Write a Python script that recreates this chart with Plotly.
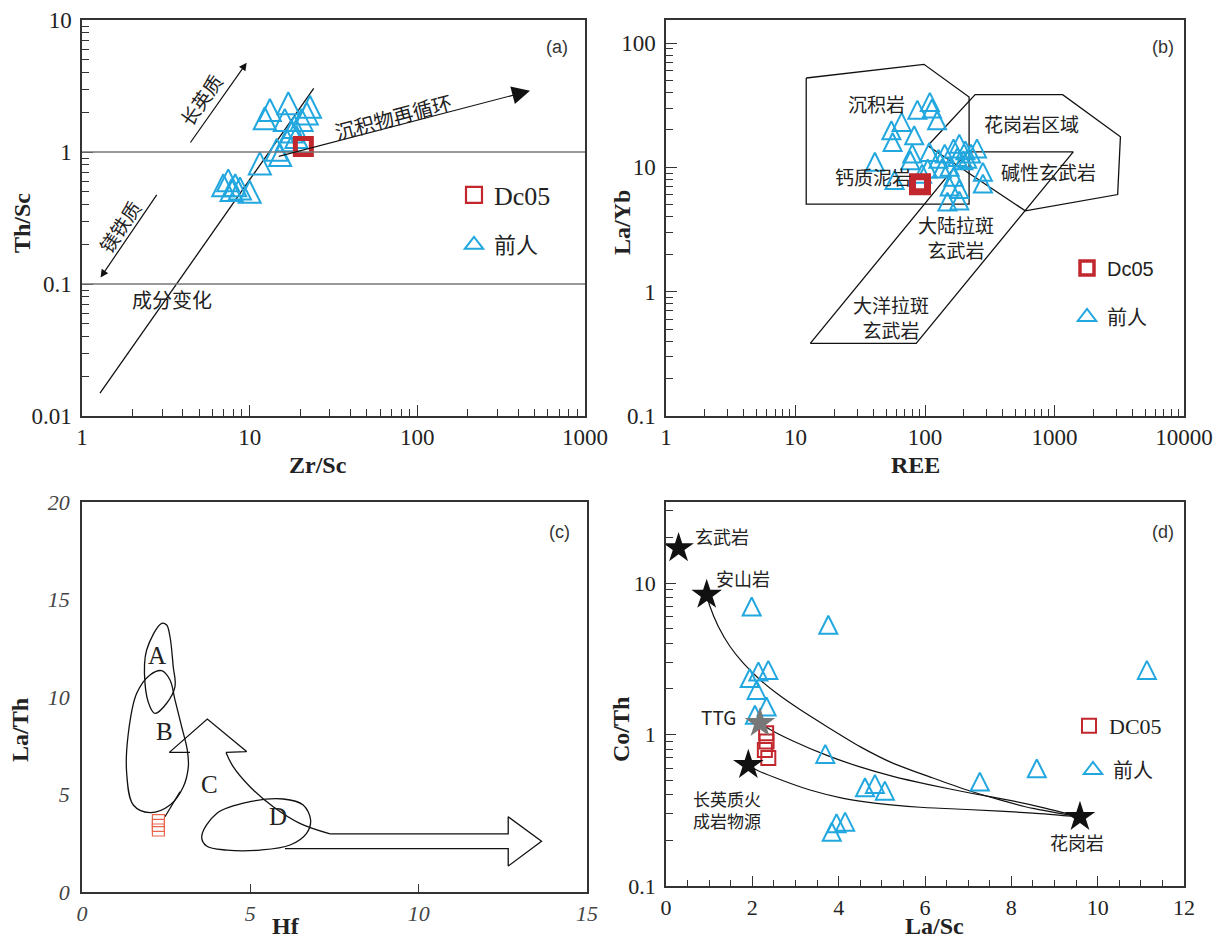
import numpy as np
import plotly.graph_objects as go

L = np.log10
W, H = 1216, 942

BLUE = "#22A7DF"
RED = "#C1272D"
LRED = "#E8674C"
SERIF = "Liberation Serif, Times New Roman, serif"
SANS = "Noto Sans CJK SC, Noto Sans, sans-serif"
ARIAL = "Liberation Sans, Arial, sans-serif"

# ---------------- Panel (a): Th/Sc vs Zr/Sc ----------------
a_prev_zrsc = [13.2, 17.0, 22.9, 12.3, 16.2, 20.4, 21.9, 17.8, 16.6, 14.5,
               15.2, 11.5, 7.45, 6.96, 8.2, 7.8, 10.0, 8.75, 19.0, 18.5]
a_prev_thsc = [2.08, 2.34, 2.2, 1.8, 1.75, 1.75, 1.96, 1.43, 1.23, 1.04,
               0.95, 0.82, 0.61, 0.56, 0.56, 0.515, 0.50, 0.53, 1.3, 1.55]
a_dc05_zrsc = [20.9]
a_dc05_thsc = [1.10]
a_hlines = [1.0, 0.1]
a_comp_x = [1.28, 24.1]
a_comp_y = [0.0149, 3.03]
a_recycle_x = [14.6, 470]
a_recycle_y = [0.92, 2.91]
a_felsic_x = [4.37, 9.6]
a_felsic_y = [1.15, 4.75]
a_mafic_x = [2.83, 1.29]
a_mafic_y = [0.486, 0.112]
a_ticks_x = [1, 10, 100, 1000]
a_ticks_y = [0.01, 0.1, 1, 10]

# ---------------- Panel (b): La/Yb vs REE ----------------
b_prev_ree = [87.3, 109, 113, 124, 66, 55, 56.2, 82.5, 79.7, 77, 41, 58.2, 108, 105,
              127, 142, 166, 184, 205, 212, 252, 280, 280, 155, 166, 155, 184, 149,
              184, 135, 198, 95, 178, 227]
b_prev_layb = [29.1, 33.6, 29.7, 23.9, 23.2, 19.9, 16.0, 18.1, 12.9, 11.4, 11.1, 7.9, 13.3, 9.8,
               11.7, 12.9, 14.2, 15.5, 13.7, 11.7, 14.2, 9.2, 7.4, 10.1, 8.4, 7.0, 6.7, 5.3,
               5.4, 9.8, 11.4, 8.9, 12.1, 12.9]
b_dc05_ree = [91.5]
b_dc05_layb = [7.3]
b_sed_x = [12.1, 98.2, 219, 219, 12.1, 12.1]
b_sed_y = [52.3, 67.4, 36.8, 5.05, 5.05, 52.3]
b_gran_x = [105, 244, 1156, 3229, 3074, 595, 105]
b_gran_y = [14.9, 38.4, 38.4, 17.6, 6.04, 4.47, 14.9]
b_thol_x = [13.0, 85.5, 1396, 212, 13.0]
b_thol_y = [0.384, 0.384, 13.3, 13.3, 0.384]
b_ticks_x = [1, 10, 100, 1000, 10000]
b_ticks_y = [0.1, 1, 10, 100]

# ---------------- Panel (c): La/Th vs Hf ----------------
c_dc05_hf = [2.27, 2.27, 2.27]
c_dc05_lath = [3.66, 3.42, 3.18]
c_A_x = [2.367, 2.515, 2.614, 2.71, 2.762, 2.515, 2.168, 2.02, 1.871, 1.92, 2.367]
c_A_y = [13.78, 13.69, 13.09, 11.55, 10.53, 9.68, 9.16, 9.50, 10.70, 12.41, 13.78]
c_B_x = [2.367, 2.614, 2.762, 2.96, 3.128, 3.159, 3.01, 2.614, 2.02, 1.524, 1.327, 1.376, 1.625, 2.02, 2.367]
c_B_y = [11.35, 10.87, 9.85, 8.48, 7.28, 6.43, 5.40, 4.46, 4.07, 4.46, 6.09, 8.14, 10.19, 11.13, 11.35]
c_Btail_x = [2.91, 2.465]
c_Btail_y = [5.14, 3.86]
c_Chead_x = [3.208, 2.594, 3.722, 4.89, 4.277]
c_Chead_y = [7.16, 7.16, 8.87, 7.20, 7.16]
c_Cbody_x = [4.277, 4.49, 4.99, 5.68, 6.47, 7.37]
c_Cbody_y = [7.16, 6.43, 5.40, 4.37, 3.52, 2.98]
c_Carrow_x = [7.37, 12.66, 12.66, 13.65, 12.66, 12.66, 6.03]
c_Carrow_y = [2.98, 2.98, 3.86, 2.60, 1.33, 2.22, 2.22]
c_D_x = [3.555, 4.0, 4.99, 5.98, 6.57, 6.79, 6.67, 6.18, 5.29, 4.30, 3.70, 3.555]
c_D_y = [2.84, 4.03, 4.63, 4.77, 4.46, 3.69, 3.01, 2.41, 2.15, 2.15, 2.36, 2.84]
c_ticks_x = [0, 5, 10, 15]
c_ticks_y = [0, 5, 10, 15, 20]

# ---------------- Panel (d): Co/Th vs La/Sc ----------------
d_prev_lasc = [1.985, 3.76, 1.94, 2.14, 2.37, 2.1, 2.33, 2.06, 3.69, 4.61, 4.84, 5.07,
               3.84, 3.95, 4.15, 11.14, 7.27, 8.59]
d_prev_coth = [7.0, 5.3, 2.36, 2.61, 2.67, 1.97, 1.53, 1.35, 0.745, 0.449, 0.472, 0.426,
               0.228, 0.26, 0.266, 2.67, 0.489, 0.598]
d_dc05_lasc = [2.32, 2.33, 2.29, 2.37]
d_dc05_coth = [1.02, 0.90, 0.79, 0.70]
d_star_names = ["玄武岩", "安山岩", "TTG", "长英质火<br>成岩物源", "花岗岩"]
d_star_lasc = [0.292, 0.943, 2.177, 1.907, 9.59]
d_star_coth = [17.0, 8.37, 1.19, 0.63, 0.286]
d_mix1_x = [0.943, 1.019, 1.212, 1.483, 1.791, 2.177, 2.564, 3.104, 3.722, 4.494, 5.266,
            6.185, 6.973, 7.737, 8.501, 9.59]
d_mix1_y = [8.37, 7.0, 5.17, 3.81, 2.96, 2.30, 1.87, 1.46, 1.13, 0.832, 0.645,
            0.516, 0.430, 0.370, 0.325, 0.286]
d_mix2_x = [2.177, 2.409, 2.942, 3.729, 4.494, 5.258, 6.115, 7.042, 7.968, 8.779, 9.59]
d_mix2_y = [1.188, 1.081, 0.907, 0.728, 0.611, 0.529, 0.465, 0.411, 0.367, 0.327, 0.286]
d_mix3_x = [1.906, 2.1, 2.564, 3.336, 4.107, 4.881, 5.884, 6.973, 8.501, 9.59]
d_mix3_y = [0.63, 0.583, 0.514, 0.430, 0.379, 0.351, 0.331, 0.320, 0.303, 0.286]
d_ticks_x = [0, 2, 4, 6, 8, 10, 12]
d_ticks_y = [0.1, 1, 10]


def fmt(v):
    return ("%g" % v)


fig = go.Figure()


def tri(x, y, ax, size, width=2):
    fig.add_trace(go.Scatter(
        x=x, y=y, mode="markers", xaxis="x" + ax, yaxis="y" + ax, showlegend=False,
        marker=dict(symbol="arrow-down-open", angle=180, size=size, standoff=size / 2,
                    color=BLUE, line=dict(color=BLUE, width=width)), hoverinfo="x+y"))


def line(x, y, ax, shape="linear", width=1.3, color="#111", smoothing=1.0):
    fig.add_trace(go.Scatter(
        x=x, y=y, mode="lines", xaxis="x" + ax, yaxis="y" + ax, showlegend=False,
        line=dict(color=color, width=width, shape=shape, smoothing=smoothing), hoverinfo="skip"))


def legend_item(name, legend, symbol, size, color, lw):
    fig.add_trace(go.Scatter(
        x=[None], y=[None], mode="markers", name=name, legend=legend, showlegend=True,
        marker=dict(symbol=symbol, size=size, color=color,
                    line=dict(color=color, width=lw))))


# ----- (a)
for hv in a_hlines:
    fig.add_shape(type="line", xref="x domain", yref="y", x0=0, x1=1, y0=hv, y1=hv,
                  line=dict(color="#777", width=1.5))
line(a_comp_x, a_comp_y, "")
tri(a_prev_zrsc, a_prev_thsc, "", 22)
fig.add_trace(go.Scatter(x=a_dc05_zrsc, y=a_dc05_thsc, mode="markers", showlegend=False,
                         marker=dict(symbol="square-open", size=16, color=RED,
                                     line=dict(color=RED, width=5))))
for xs, ys, sz in [(a_recycle_x, a_recycle_y, 3.0), (a_felsic_x, a_felsic_y, 1.3),
                   (a_mafic_x, a_mafic_y, 1.3)]:
    fig.add_annotation(x=L(xs[1]), y=L(ys[1]), ax=L(xs[0]), ay=L(ys[0]),
                       xref="x", yref="y", axref="x", ayref="y", text="",
                       showarrow=True, arrowhead=2, arrowsize=sz, arrowwidth=1.2,
                       arrowcolor="#111", standoff=0)

# ----- (b)
line(b_sed_x, b_sed_y, "2")
line(b_gran_x, b_gran_y, "2")
line(b_thol_x, b_thol_y, "2")
tri(b_prev_ree, b_prev_layb, "2", 18)
fig.add_trace(go.Scatter(x=b_dc05_ree, y=b_dc05_layb, mode="markers", xaxis="x2", yaxis="y2",
                         showlegend=False,
                         marker=dict(symbol="square-open", size=15, color=RED,
                                     line=dict(color=RED, width=7))))

# ----- (c)
line(c_A_x, c_A_y, "3", "spline")
line(c_B_x, c_B_y, "3", "spline")
line(c_Btail_x, c_Btail_y, "3")
line(c_Chead_x, c_Chead_y, "3")
line(c_Cbody_x, c_Cbody_y, "3", "spline")
line(c_Carrow_x, c_Carrow_y, "3")
line(c_D_x, c_D_y, "3", "spline")
fig.add_trace(go.Scatter(x=c_dc05_hf, y=c_dc05_lath, mode="markers", xaxis="x3", yaxis="y3",
                         showlegend=False,
                         marker=dict(symbol="square-open", size=12, color=LRED,
                                     line=dict(color=LRED, width=1.2))))

# ----- (d)
line(d_mix1_x, d_mix1_y, "4", "spline", 1.2, smoothing=0.6)
line(d_mix2_x, d_mix2_y, "4", "spline", 1.2, smoothing=0.6)
line(d_mix3_x, d_mix3_y, "4", "spline", 1.2, smoothing=0.6)
tri(d_prev_lasc, d_prev_coth, "4", 18)
fig.add_trace(go.Scatter(x=d_dc05_lasc, y=d_dc05_coth, mode="markers", xaxis="x4", yaxis="y4",
                         showlegend=False,
                         marker=dict(symbol="square-open", size=14, color=RED,
                                     line=dict(color=RED, width=2))))
star_cols = ["#111", "#111", "#777", "#111", "#111"]
fig.add_trace(go.Scatter(x=d_star_lasc, y=d_star_coth, mode="markers", xaxis="x4", yaxis="y4",
                         showlegend=False,
                         marker=dict(symbol="star", size=23, color=star_cols,
                                     line=dict(width=0))))

# star labels
star_lab_pos = [(1.29, 20.3, 18), (1.79, 10.8, 18), (1.21, 1.31, 19), (1.406, 0.32, 17),
                (9.51, 0.196, 18)]
for name, (lx, ly, fs) in zip(d_star_names, star_lab_pos):
    fig.add_annotation(x=lx, y=L(ly), xref="x4", yref="y4", text=name, showarrow=False,
                       font=dict(family=SANS, size=fs, color="#222"), xanchor="center",
                       yanchor="middle", align="left")

# ----- legends
legend_item("Dc05", "legend", "square-open", 16, RED, 2.2)
legend_item("前人", "legend2", "triangle-up-open", 16, BLUE, 2)
legend_item("Dc05", "legend3", "square-open", 14, RED, 3.5)
legend_item("前人", "legend4", "triangle-up-open", 16, BLUE, 2)
legend_item("DC05", "legend5", "square-open", 14, RED, 2)
legend_item("前人", "legend6", "triangle-up-open", 16, BLUE, 2)


def leg(px, py, family, size):
    return dict(x=(px - 19) / W, y=1 - py / H, xanchor="left", yanchor="middle",
                bgcolor="rgba(0,0,0,0)", font=dict(family=family, size=size, color="#222"),
                itemsizing="trace")


# ----- text annotations
def ann(x, y, text, ref, size=17, angle=0, family=SANS, color="#222"):
    fig.add_annotation(x=x, y=y, xref="x" + ref, yref="y" + ref, text=text, showarrow=False,
                       textangle=angle, font=dict(family=family, size=size, color=color),
                       xanchor="center", yanchor="middle")


ann(L(5.1), L(2.5), "长英质", "", 19, -55)
ann(L(1.67), L(0.272), "镁铁质", "", 19, -56)
ann(L(71.9), L(1.87), "沉积物再循环", "", 20, -15)
ann(L(3.42), L(0.0757), "成分变化", "", 20)

ann(L(42.5), L(32.5), "沉积岩", "2", 19)
ann(L(670), L(22.5), "花岗岩区域", "2", 19)
ann(L(905), L(9.2), "碱性玄武岩", "2", 19)
ann(L(39.6), L(8.5), "钙质泥岩", "2", 19)
ann(L(172), L(2.76), "大陆拉斑<br>玄武岩", "2", 19)
ann(L(54.3), L(0.628), "大洋拉斑<br>玄武岩", "2", 19)

ann(2.24, 12.15, "A", "3", 25, family=SERIF)
ann(2.465, 8.22, "B", "3", 25, family=SERIF)
ann(3.80, 5.49, "C", "3", 25, family=SERIF)
ann(5.83, 3.86, "D", "3", 25, family=SERIF)

# panel letters and axis titles (paper coords)
for txt, px, py in [("(a)", 557, 47), ("(b)", 1163, 47), ("(c)", 559, 532), ("(d)", 1163, 532)]:
    fig.add_annotation(x=px / W, y=1 - py / H, xref="paper", yref="paper", text=txt,
                       showarrow=False, xanchor="center", yanchor="middle",
                       font=dict(family=ARIAL, size=18, color="#333"))
for txt, px, py, ang in [("Th/Sc", 22, 223, -90), ("Zr/Sc", 318, 465, 0),
                         ("La/Yb", 622, 223, -90), ("REE", 915, 465, 0),
                         ("La/Th", 20, 730, -90), ("Hf", 286, 926, 0),
                         ("Co/Th", 621, 730, -90), ("La/Sc", 934, 926, 0)]:
    fig.add_annotation(x=px / W, y=1 - py / H, xref="paper", yref="paper",
                       text="<b>%s</b>" % txt, showarrow=False, textangle=ang,
                       xanchor="center", yanchor="middle",
                       font=dict(family=SERIF, size=24, color="#222"))


def axis(domain, anchor, rng, typ, tickvals, tickfont, ticklen=10, minor=None, ticks="inside",
         standoff=0):
    d = dict(domain=domain, anchor=anchor, range=rng, type=typ, showgrid=False, zeroline=False,
             showline=True, linecolor="#333", linewidth=1.5, mirror=True, automargin=False,
             ticks=ticks, ticklen=ticklen, tickwidth=1.2, tickcolor="#333",
             tickmode="array", tickvals=tickvals, ticktext=[fmt(v) for v in tickvals],
             tickfont=tickfont, ticklabelstandoff=standoff)
    if minor:
        d["minor"] = minor
    return d


tf = dict(family=SERIF, size=23, color="#222")
tfb = dict(family=SERIF, size=22, color="#222")
tfi = dict(family=SERIF, size=22, color="#444", style="italic")
logminor = dict(ticks="inside", ticklen=7, dtick="D1", tickcolor="#333", tickwidth=1, showgrid=False)

ax_a = [82 / W, 585 / W]
ax_b = [666 / W, 1184 / W]
fig.update_layout(
    width=W, height=H, margin=dict(l=0, r=0, t=0, b=0, pad=0, autoexpand=False),
    paper_bgcolor="white", plot_bgcolor="white",
    xaxis=axis(ax_a, "y", [0, 3], "log", a_ticks_x, tf, 11, logminor),
    yaxis=axis([1 - 416 / H, 1 - 20 / H], "x", [-2, 1], "log", a_ticks_y, tf, 11, logminor, standoff=4),
    xaxis2=axis(ax_b, "y2", [0, 4], "log", b_ticks_x, tf, 11, logminor),
    yaxis2=axis([1 - 416 / H, 1 - 20 / H], "x2", [-1, 2.185], "log", b_ticks_y, tf, 11, logminor, standoff=4),
    xaxis3=axis([82 / W, 587 / W], "y3", [0, 15], "linear", c_ticks_x, tfi, 8, standoff=1),
    yaxis3=axis([1 - 892 / H, 1 - 502 / H], "x3", [0, 20], "linear", c_ticks_y, tfi, 0, None, "", standoff=6),
    xaxis4=axis(ax_b, "y4", [0, 12], "linear", d_ticks_x, tfb, 10,
                dict(ticks="inside", ticklen=6, dtick=0.5, tickcolor="#333", tickwidth=1, showgrid=False),
                standoff=1),
    yaxis4=axis([1 - 886 / H, 1 - 502 / H], "x4", [-1, 1.535], "log", d_ticks_y, tfb, 10, logminor, standoff=4),
    legend=leg(473, 195, SERIF, 26),
    legend2=leg(473, 245, SANS, 22),
    legend3=leg(1086, 268, ARIAL, 20),
    legend4=leg(1086, 317, SANS, 20),
    legend5=leg(1088, 726, SERIF, 22),
    legend6=leg(1092, 770, SANS, 20),
)

fig.write_html("out.html")
